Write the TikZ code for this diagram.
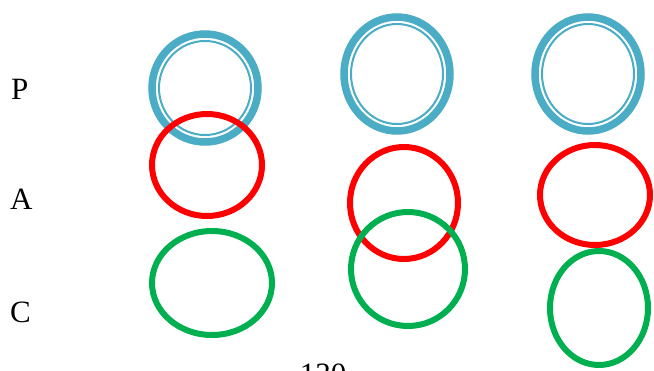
\documentclass[tikz,border=0pt]{standalone}
\usepackage{fontspec}
\setmainfont{Liberation Serif}
\begin{document}
\begin{tikzpicture}[x=1pt,y=-1pt,
  blueout/.style={draw=aqua,line width=7.5pt},
  bluein/.style={draw=aqua,line width=2pt},
  redc/.style={draw=red,line width=6pt},
  greenc/.style={draw=grn,line width=6pt},
  lbl/.style={font=\fontsize{31}{33}\selectfont,inner sep=0pt}]
\definecolor{aqua}{HTML}{4BACC6}
\definecolor{grn}{HTML}{00B050}
\clip (0,0) rectangle (654,370);
\fill[white] (0,0) rectangle (654,370);
% labels
\node[lbl,anchor=base west] (P) at (11,99) {P};
\node[lbl,anchor=base west] (A) at (10,209) {A};
\node[lbl,anchor=base west] (C) at (10,322) {C};
\node[lbl,anchor=base] (n130) at (323,384) {130};
% blue double circles
\draw[blueout] (205,88) ellipse [x radius=53,y radius=54];
\draw[bluein] (205,88) ellipse [x radius=46,y radius=47];
\draw[blueout] (397,74) ellipse [x radius=53,y radius=57];
\draw[bluein] (397,74) ellipse [x radius=46,y radius=50];
\draw[blueout] (588,74) ellipse [x radius=53,y radius=57];
\draw[bluein] (588,74) ellipse [x radius=46,y radius=50];
% red circles
\draw[redc] (207,165) ellipse [x radius=55,y radius=51];
\draw[redc] (404,203) ellipse [x radius=54,y radius=56];
\draw[redc] (595,195) ellipse [x radius=55,y radius=50];
% green circles
\draw[greenc] (212,283) ellipse [x radius=60,y radius=52];
\draw[greenc] (408,269) ellipse [x radius=57,y radius=57];
\draw[greenc] (599,308) ellipse [x radius=49,y radius=57];
\end{tikzpicture}
\end{document}
